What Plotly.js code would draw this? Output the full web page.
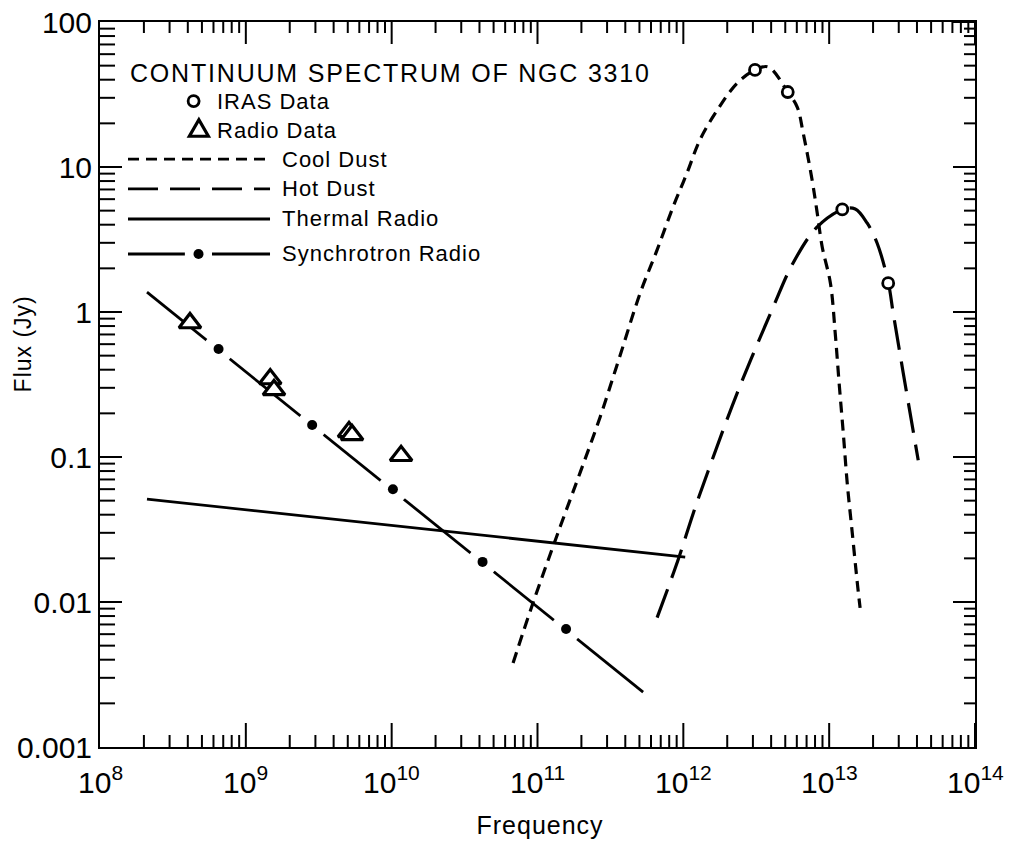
<!DOCTYPE html>
<html>
<head>
<meta charset="utf-8">
<script src="https://cdn.plot.ly/plotly-3.0.1.min.js"></script>
<style>
html,body{margin:0;padding:0;background:#fff;}
#chart{width:1011px;height:842px;}
g.annotation[data-index="0"] text{letter-spacing:1.8px;}
g.annotation[data-index="1"] text, g.annotation[data-index="2"] text, g.annotation[data-index="3"] text,
g.annotation[data-index="4"] text, g.annotation[data-index="5"] text, g.annotation[data-index="6"] text,
g.annotation[data-index="7"] text, g.annotation[data-index="8"] text{letter-spacing:1px;}
</style>
</head>
<body>
<div id="chart"></div>
<script>
// ---- Data (frequency in Hz, flux in Jy) ----
const irasFreq = [3.1e12, 5.2e12, 1.23e13, 2.54e13];
const irasFlux = [46.7, 32.9, 5.1, 1.58];

const radioFreq = [4.14e8, 1.47e9, 1.56e9, 5.1e9, 5.35e9, 1.16e10];
const radioFlux = [0.84, 0.345, 0.29, 0.149, 0.142, 0.102];

const coolFreq = [6.8e10, 9.3e10, 1.43e11, 1.96e11, 2.69e11, 3.68e11, 5.06e11, 6.61e11, 8.5e11, 1.06e12,
                  1.30e12, 1.71e12, 2.34e12, 3.1e12, 3.82e12, 5.2e12, 6.04e12, 6.64e12, 7.64e12, 8.28e12,
                  8.96e12, 1.02e13, 1.10e13, 1.17e13, 1.25e13, 1.33e13, 1.44e13, 1.56e13, 1.63e13];
const coolFlux = [0.0038, 0.0098, 0.033, 0.078, 0.189, 0.50, 1.35, 2.68, 5.3, 9.1,
                  15.4, 24.7, 37.9, 46.7, 49.0, 32.9, 25.9, 17.1, 8.13, 4.82,
                  2.81, 1.58, 0.717, 0.324, 0.146, 0.066, 0.030, 0.0135, 0.0091];

const hotFreq = [6.61e11, 9.2e11, 1.17e12, 1.48e12, 2.34e12, 4.13e12, 5.66e12, 8.28e12,
                 1.25e13, 1.51e13, 1.82e13, 2.13e13, 2.54e13, 2.75e13, 3.22e13, 4.08e13];
const hotFlux = [0.0078, 0.0195, 0.041, 0.080, 0.276, 1.08, 2.18, 3.86,
                 5.13, 5.13, 4.11, 2.99, 1.61, 0.98, 0.38, 0.095];

const thermalFreq = [2.1e8, 1.03e12];
const thermalFlux = [0.0513, 0.0204];

const synchFreq = [2.1e8, 5.3e11];
const synchFlux = [1.37, 0.00239];
const synchDotFreq = [6.5e8, 2.85e9, 1.02e10, 4.2e10, 1.57e11];
const synchDotFlux = [0.556, 0.166, 0.060, 0.0189, 0.00652];

const xTickVals = [1e8, 1e9, 1e10, 1e11, 1e12, 1e13, 1e14];
const xTickText = ['10<sup>8</sup>', '10<sup>9</sup>', '10<sup>10</sup>', '10<sup>11</sup>', '10<sup>12</sup>', '10<sup>13</sup>', '10<sup>14</sup>'];
const yTickVals = [0.001, 0.01, 0.1, 1, 10, 100];
const yTickText = ['0.001', '0.01', '0.1', '1', '10', '100'];

const legendTitle = 'CONTINUUM SPECTRUM OF NGC 3310';
const legendLabels = ['IRAS Data', 'Radio Data', 'Cool Dust', 'Hot Dust', 'Thermal Radio', 'Synchrotron Radio'];

// ---- styling ----
const FONT = 'Liberation Sans, Arial, Helvetica, sans-serif';
const BLACK = '#000';
const coolDash = '11px,7px';
const hotDash = '30px,12px';
const X_RANGE = [8, 14];
const Y_RANGE = [-3, 2];

// legend layout positions (fractions of the plot area)
const L = {x0: 0.032, x1: 0.1943, gapL: 0.097, gapR: 0.128, txt: 0.2057, ys: [0.811, 0.7697, 0.7283, 0.680],
           markX: 0.107, triX: 0.113, dotX: 0.1126, markY: [0.891, 0.850], markTxt: 0.131, title: {x: 0.032, y: 0.9297}};

const traces = [];
// synchrotron line with gaps around the dots
traces.push({x: synchFreq, y: synchFlux, mode: 'lines', line: {color: BLACK, width: 2.8}, hoverinfo: 'skip'});
traces.push({x: synchDotFreq, y: synchDotFlux, mode: 'markers', marker: {symbol: 'circle', size: 30, color: '#fff', line: {width: 0}}, hoverinfo: 'skip'});
// thermal
traces.push({x: thermalFreq, y: thermalFlux, mode: 'lines', line: {color: BLACK, width: 2.8}});
// cool dust
traces.push({x: coolFreq, y: coolFlux, mode: 'lines', line: {color: BLACK, width: 3.2, dash: coolDash, shape: 'spline', smoothing: 1}});
// hot dust
traces.push({x: hotFreq, y: hotFlux, mode: 'lines', line: {color: BLACK, width: 3.2, dash: hotDash, shape: 'spline', smoothing: 1}});
// synchrotron dots
traces.push({x: synchDotFreq, y: synchDotFlux, mode: 'markers', marker: {symbol: 'circle', size: 10, color: BLACK}});
// radio data
traces.push({x: radioFreq, y: radioFlux, mode: 'markers', marker: {symbol: 'triangle-up', size: 19, color: '#fff', line: {color: BLACK, width: 3.2}}});
// IRAS data
traces.push({x: irasFreq, y: irasFlux, mode: 'markers', marker: {symbol: 'circle', size: 11, color: '#fff', line: {color: BLACK, width: 2.8}}});

// ---- legend drawn with shapes (paper coordinates) ----
function hline(xa, xb, y, dash) {
  return {type: 'line', xref: 'paper', yref: 'paper', x0: xa, x1: xb, y0: y, y1: y, line: {color: BLACK, width: 2.8, dash: dash || 'solid'}};
}
const shapes = [
  hline(L.x0, L.x1, L.ys[0], coolDash),
  hline(L.x0, L.x1, L.ys[1], hotDash),
  hline(L.x0, L.x1, L.ys[2]),
  hline(L.x0, L.gapL, L.ys[3]),
  hline(L.gapR, L.x1, L.ys[3]),
  {type: 'circle', xref: 'paper', yref: 'paper', xsizemode: 'pixel', ysizemode: 'pixel', xanchor: L.markX, yanchor: L.markY[0],
   x0: -5.5, x1: 5.5, y0: -5.5, y1: 5.5, fillcolor: '#fff', line: {color: BLACK, width: 2.8}},
  {type: 'path', xref: 'paper', yref: 'paper', xsizemode: 'pixel', ysizemode: 'pixel', xanchor: L.triX, yanchor: L.markY[1],
   path: 'M-9.5,-5.5 L9.5,-5.5 L0,11 Z', fillcolor: '#fff', line: {color: BLACK, width: 3.2}},
  {type: 'circle', xref: 'paper', yref: 'paper', xsizemode: 'pixel', ysizemode: 'pixel', xanchor: L.dotX, yanchor: L.ys[3],
   x0: -5, x1: 5, y0: -5, y1: 5, fillcolor: BLACK, line: {color: BLACK, width: 0}}
];

// ---- inside tick marks on all four sides (major 1, minor 2..9 per decade) ----
function xTick(frac, len, top) {
  return {type: 'line', xref: 'paper', yref: 'paper', ysizemode: 'pixel', yanchor: top ? 1 : 0,
          x0: frac, x1: frac, y0: 0, y1: top ? -len : len, line: {color: BLACK, width: 2}};
}
function yTick(frac, len, right) {
  return {type: 'line', xref: 'paper', yref: 'paper', xsizemode: 'pixel', xanchor: right ? 1 : 0,
          y0: frac, y1: frac, x0: 0, x1: right ? -len : len, line: {color: BLACK, width: 2}};
}
for (let e = X_RANGE[0]; e <= X_RANGE[1]; e++) {
  for (let d = 1; d <= 9; d++) {
    const lv = e + Math.log10(d);
    if (lv > X_RANGE[1]) break;
    const f = (lv - X_RANGE[0]) / (X_RANGE[1] - X_RANGE[0]);
    const len = d === 1 ? 24 : 12;
    if (f > 0.001) shapes.push(xTick(f, len, false));
    if (f > 0.001) shapes.push(xTick(f, d === 1 ? 22 : 11, true));
  }
}
for (let e = Y_RANGE[0]; e <= Y_RANGE[1]; e++) {
  for (let d = 1; d <= 9; d++) {
    const lv = e + Math.log10(d);
    if (lv > Y_RANGE[1]) break;
    const f = (lv - Y_RANGE[0]) / (Y_RANGE[1] - Y_RANGE[0]);
    if (f > 0.001 && f < 0.999) shapes.push(yTick(f, d === 1 ? 22 : 15, false));
    if (f > 0.001) shapes.push(yTick(f, d === 1 ? 22 : 11, true));
  }
}

const annotations = [];
function leftNote(x, y, text, size) {
  return {xref: 'paper', yref: 'paper', x: x, y: y, xanchor: 'left', yanchor: 'middle', align: 'left', showarrow: false,
          text: text, font: {family: FONT, size: size, color: BLACK}};
}
annotations.push(leftNote(L.title.x, L.title.y, legendTitle, 25));
annotations.push(leftNote(L.markTxt, L.markY[0], legendLabels[0], 22));
annotations.push(leftNote(L.markTxt, L.markY[1], legendLabels[1], 22));
for (let i = 0; i < 4; i++) annotations.push(leftNote(L.txt, L.ys[i], legendLabels[i + 2], 22));
annotations.push({xref: 'paper', yref: 'paper', x: 0.503, y: -0.1076, xanchor: 'center', yanchor: 'middle', showarrow: false,
                  text: 'Frequency', font: {family: FONT, size: 25, color: BLACK}});
annotations.push({xref: 'paper', yref: 'paper', x: -0.088, y: 0.556, xanchor: 'center', yanchor: 'middle', showarrow: false,
                  textangle: -90, text: 'Flux (Jy)', font: {family: FONT, size: 23, color: BLACK}});
// x tick labels (annotations on the log axis use log10 positions)
xTickVals.forEach(function (v, i) {
  annotations.push({xref: 'x', yref: 'paper', x: Math.log10(v), y: -0.046, xanchor: 'center', yanchor: 'middle', showarrow: false,
                    text: xTickText[i], font: {family: FONT, size: 30, color: BLACK}});
});

const layout = {
  width: 1011, height: 842,
  margin: {l: 100, r: 36, t: 22, b: 95},
  paper_bgcolor: '#fff', plot_bgcolor: '#fff',
  showlegend: false,
  font: {family: FONT, color: BLACK},
  xaxis: {
    type: 'log', range: X_RANGE, showgrid: false, zeroline: false, showline: true, linecolor: BLACK, linewidth: 2, mirror: true,
    ticks: '', tickmode: 'array', tickvals: xTickVals, showticklabels: false
  },
  yaxis: {
    type: 'log', range: Y_RANGE, showgrid: false, zeroline: false, showline: true, linecolor: BLACK, linewidth: 2, mirror: true,
    ticks: '', tickmode: 'array', tickvals: yTickVals, ticktext: yTickText,
    tickfont: {family: FONT, size: 30, color: BLACK}
  },
  shapes: shapes,
  annotations: annotations
};

Plotly.newPlot('chart', traces, layout, {staticPlot: true});
</script>
</body>
</html>
